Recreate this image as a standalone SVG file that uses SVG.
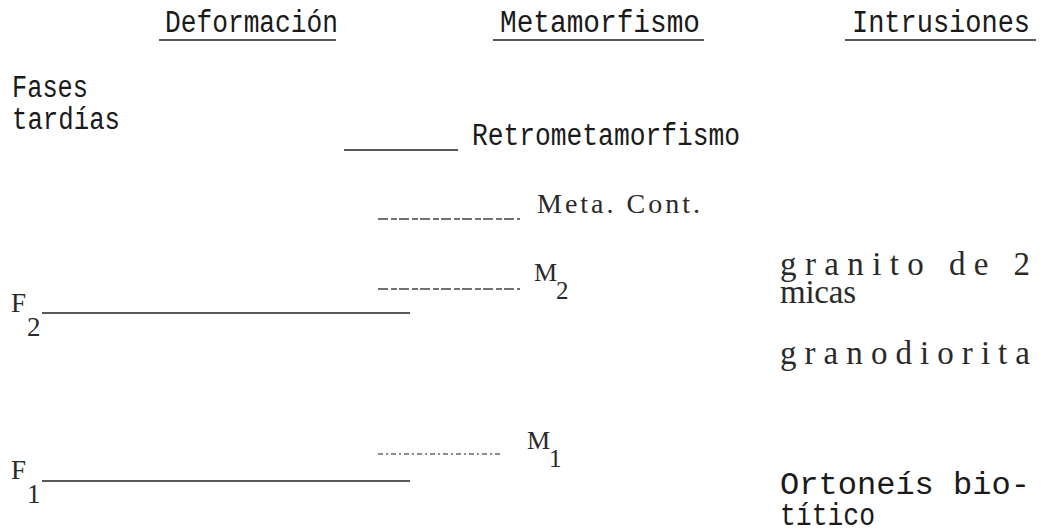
<svg xmlns="http://www.w3.org/2000/svg" width="1056" height="532" viewBox="0 0 1056 532">
<style>
.tw{font-family:"Liberation Mono","DejaVu Sans Mono",monospace;font-size:31px;fill:#1a1a1a}
.sf{font-family:"Liberation Serif","DejaVu Serif",serif;font-size:33px;fill:#2a2a2a}
.ul{stroke:#222;stroke-width:1.5}
.ln{stroke:#222;stroke-width:1.7}
.dl{stroke:#444;stroke-width:1.4;stroke-dasharray:10 3 6 2}
.dt{stroke:#666;stroke-width:1.3;stroke-dasharray:5 3 2 3}
</style>
<rect width="1056" height="532" fill="#fff"/>
<g id="headers">
<text class="tw" x="165" y="32" textLength="173" lengthAdjust="spacingAndGlyphs">Deformación</text>
<line class="ul" x1="159" y1="40" x2="336" y2="40"/>
<text class="tw" x="500" y="32" textLength="200" lengthAdjust="spacingAndGlyphs">Metamorfismo</text>
<line class="ul" x1="493" y1="40" x2="704" y2="40"/>
<text class="tw" x="852" y="32" textLength="178" lengthAdjust="spacingAndGlyphs">Intrusiones</text>
<line class="ul" x1="845" y1="40" x2="1036" y2="40"/>
</g>
<g id="fases-tardias">
<text class="tw" x="12" y="97" textLength="76" lengthAdjust="spacingAndGlyphs">Fases</text>
<text class="tw" x="12" y="129" textLength="108" lengthAdjust="spacingAndGlyphs">tardías</text>
</g>
<g id="F2">
<text class="sf" x="11" y="312" style="font-size:27px">F</text>
<text class="sf" x="27" y="336" style="font-size:27px">2</text>
</g>
<g id="F1">
<text class="sf" x="11" y="479" style="font-size:27px">F</text>
<text class="sf" x="27" y="503" style="font-size:27px">1</text>
</g>
<g id="retrometamorfismo">
<text class="tw" x="472" y="145" textLength="268" lengthAdjust="spacingAndGlyphs">Retrometamorfismo</text>
</g>
<g id="meta-cont">
<text class="sf" x="537" y="213" style="font-size:28px" textLength="163" lengthAdjust="spacing">Meta. Cont.</text>
</g>
<g id="M2">
<text class="sf" x="534" y="281" style="font-size:26px">M</text>
<text class="sf" x="556" y="299" style="font-size:25px">2</text>
</g>
<g id="M1">
<text class="sf" x="527" y="449" style="font-size:26px">M</text>
<text class="sf" x="549" y="467" style="font-size:25px">1</text>
</g>
<g id="granito">
<text class="sf" x="780" y="275" textLength="250" lengthAdjust="spacing">granito de 2</text>
<text class="sf" x="780" y="303" textLength="76" lengthAdjust="spacing">micas</text>
</g>
<g id="granodiorita">
<text class="sf" x="780" y="364" textLength="250" lengthAdjust="spacing">granodiorita</text>
</g>
<g id="ortoneis">
<text class="tw" x="780" y="494" textLength="250" lengthAdjust="spacingAndGlyphs">Ortoneís bio-</text>
<text class="tw" x="780" y="525" textLength="95" lengthAdjust="spacingAndGlyphs">títico</text>
</g>
<g id="connectors">
<line class="ln" x1="344" y1="150" x2="458" y2="150"/>
<line class="dl" x1="378" y1="219" x2="520" y2="219"/>
<line class="dl" x1="378" y1="289" x2="520" y2="289"/>
<line class="ln" x1="42" y1="313" x2="410" y2="313"/>
<line class="dt" x1="378" y1="454" x2="500" y2="454"/>
<line class="ln" x1="42" y1="481" x2="410" y2="481"/>
</g>
</svg>
